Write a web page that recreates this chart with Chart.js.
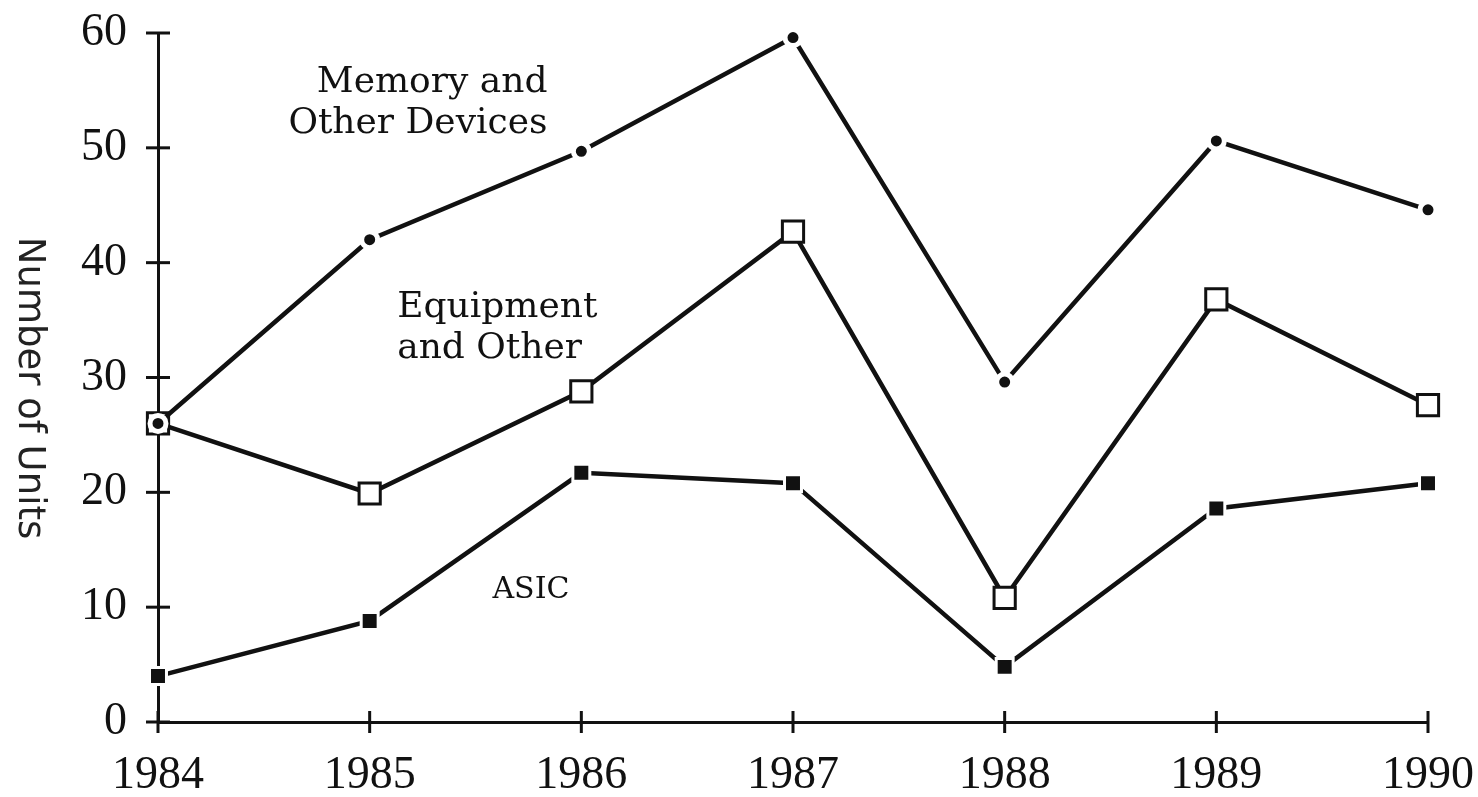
<!DOCTYPE html>
<html>
<head>
<meta charset="utf-8">
<script src="https://cdn.jsdelivr.net/npm/chart.js@4"></script>
<style>
  html, body { margin: 0; padding: 0; background: #fff; }
  #wrap { width: 1478px; height: 797px; }
</style>
</head>
<body>
<div id="wrap"><canvas id="unitsChart" width="1478" height="797"></canvas></div>
<script>
var years = [1984, 1985, 1986, 1987, 1988, 1989, 1990];
var memoryUnits = [26, 42, 49.7, 59.6, 29.6, 50.6, 44.6];
var equipmentUnits = [26, 19.9, 28.8, 42.7, 10.8, 36.8, 27.6];
var asicUnits = [4, 8.8, 21.7, 20.8, 4.8, 18.6, 20.8];
var yTicks = [0, 10, 20, 30, 40, 50, 60];

var ink = '#111';
var serif = '"DejaVu Serif", serif';

function toPoints(vals) {
    return years.map(function (y, i) { return {x: y, y: vals[i]}; });
}

// labels sitting next to the lines (value coords)
var notes = [
    {lines: ['Memory and', 'Other Devices'], x: 1985.84, y: 54.9, align: 'right', size: 36},
    {lines: ['Equipment', 'and Other'], x: 1985.13, y: 35.3, align: 'left', size: 36},
    {lines: ['ASIC'], x: 1985.58, y: 10.8, align: 'left', size: 30}
];

var extras = {
    id: 'extras',
    afterDraw: function (chart) {
        var ctx = chart.ctx;
        var xs = chart.scales.x, ys = chart.scales.y;
        ctx.save();
        ctx.strokeStyle = ink;
        ctx.lineWidth = 3;
        // cross ticks on both axes
        yTicks.forEach(function (v) {
            var py = ys.getPixelForValue(v);
            ctx.beginPath();
            ctx.moveTo(xs.left - 12, py);
            ctx.lineTo(xs.left + 12, py);
            ctx.stroke();
        });
        years.forEach(function (v) {
            var px = xs.getPixelForValue(v);
            ctx.beginPath();
            ctx.moveTo(px, ys.bottom - 11);
            ctx.lineTo(px, ys.bottom + 11);
            ctx.stroke();
        });

        ctx.fillStyle = ink;
        ctx.textBaseline = 'alphabetic';
        notes.forEach(function (n) {
            ctx.font = n.size + 'px ' + serif;
            ctx.textAlign = n.align;
            var px = xs.getPixelForValue(n.x);
            var py = ys.getPixelForValue(n.y);
            n.lines.forEach(function (t, i) {
                ctx.fillText(t, px, py + i * 41);
            });
        });

        // y title, reads top to bottom
        ctx.font = '37px "DejaVu Sans", sans-serif';
        ctx.fillStyle = '#222';
        ctx.textAlign = 'center';
        ctx.textBaseline = 'middle';
        ctx.translate(29, 388);
        ctx.rotate(Math.PI / 2);
        ctx.fillText('Number of Units', 0, 0);
        ctx.restore();
    }
};

var ctx = document.getElementById('unitsChart');
var chart = new Chart(ctx, {
    type: 'line',
    data: {
        datasets: [{
            label: 'Memory and Other Devices',
            data: toPoints(memoryUnits),
            clip: false,
            borderColor: ink,
            borderWidth: 4.5,
            pointStyle: 'circle',
            pointRadius: 8,
            pointBackgroundColor: ink,
            pointBorderColor: '#fff',
            pointBorderWidth: 5
        }, {
            label: 'Equipment and Other',
            data: toPoints(equipmentUnits),
            clip: false,
            borderColor: ink,
            borderWidth: 4.5,
            pointStyle: 'rect',
            pointRadius: 15,
            pointBackgroundColor: '#fff',
            pointBorderColor: ink,
            pointBorderWidth: 3
        }, {
            label: 'ASIC',
            data: toPoints(asicUnits),
            clip: false,
            borderColor: ink,
            borderWidth: 4.5,
            pointStyle: 'rect',
            pointRadius: 12,
            pointBackgroundColor: ink,
            pointBorderColor: '#fff',
            pointBorderWidth: 3
        }]
    },
    options: {
        responsive: false,
        animation: false,
        events: [],
        layout: {padding: {top: 33, right: 50, left: 0, bottom: 0}},
        plugins: {
            legend: {display: false},
            tooltip: {enabled: false}
        },
        scales: {
            x: {
                type: 'linear',
                min: 1984,
                max: 1990,
                grid: {display: false, drawTicks: false},
                border: {display: true, color: ink, width: 3},
                afterFit: function (s) {
                    s.height = 75;
                    s.paddingLeft = 0;
                    s.paddingRight = 0;
                },
                afterBuildTicks: function (s) {
                    s.ticks = years.map(function (v) { return {value: v}; });
                },
                ticks: {
                    padding: 26,
                    color: ink,
                    font: {family: '"Liberation Serif", serif', size: 46},
                    callback: function (v) { return String(v); }
                }
            },
            y: {
                min: 0,
                max: 60,
                grid: {display: false, drawTicks: false},
                border: {display: true, color: ink, width: 3},
                afterFit: function (s) {
                    s.width = 158;
                    s.paddingTop = 0;
                    s.paddingBottom = 0;
                },
                afterBuildTicks: function (s) {
                    s.ticks = yTicks.map(function (v) { return {value: v}; });
                },
                ticks: {
                    padding: 31,
                    color: ink,
                    font: {family: '"Liberation Serif", serif', size: 46}
                }
            }
        }
    },
    plugins: [extras]
});
</script>
</body>
</html>
